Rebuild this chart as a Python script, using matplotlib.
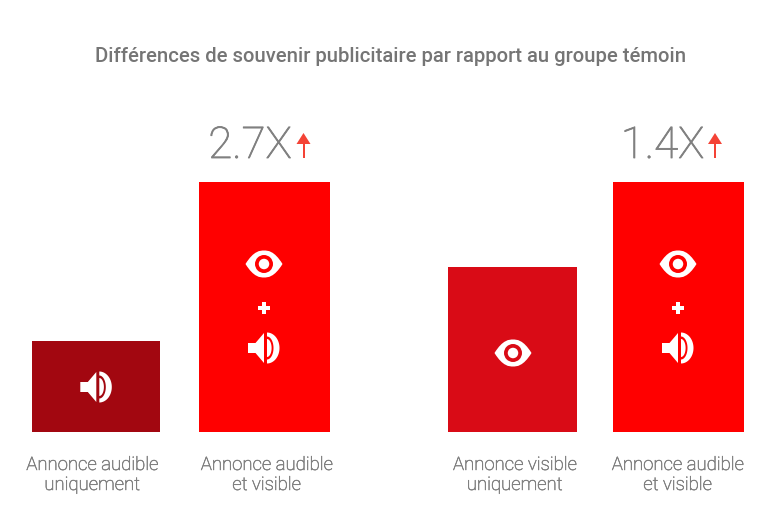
import matplotlib
matplotlib.use("Agg")
import numpy as np
import matplotlib.pyplot as plt
import matplotlib.patheffects as pe
from matplotlib.patches import Ellipse, Polygon, Rectangle, PathPatch
from matplotlib.path import Path
from matplotlib.transforms import Affine2D

title = "Différences de souvenir publicitaire par rapport au groupe témoin"
categories = ["Annonce audible\nuniquement", "Annonce audible\net visible",
              "Annonce visible\nuniquement", "Annonce audible\net visible"]
values = [91, 250, 165, 250]
multipliers = [None, "2.7X", None, "1.4X"]
icons = ["sound", "both", "eye", "both"]
bar_colors = ["#a20710", "#ff0000", "#d90b16", "#ff0000"]
centers = [95.8, 264.5, 512.5, 678.5]
widths = [128.5, 131, 128.5, 131]
label_centers = [92, 266.5, 514.5, 677.5]
mult_offsets = [0, -14.5, 0, -16]
arrow_offsets = [0, 39, 0, 36.5]

W, H = 780, 513
BASE = 432
fig = plt.figure(figsize=(7.8, 5.13), dpi=100)
ax = fig.add_axes([0, 0, 1, 1])
ax.set_xlim(0, W)
ax.set_ylim(BASE - H, BASE)
ax.axis("off")

GREY = "#757575"
LIGHT = "#808080"
ARROW = "#f44336"
FONT = "Roboto"
THICKEN = [pe.withStroke(linewidth=0.4, foreground=LIGHT)]
THICKEN_BIG = [pe.withStroke(linewidth=0.6, foreground=LIGHT)]


def place(cx, cy):
    return Affine2D().translate(cx, cy) + ax.transData


def eye(cx, cy, bg):
    t = place(cx, cy)
    w, h = 18.5, 13.5
    verts = [(-w, 0), (-w * .55, h), (-w * .2, h), (0, h), (w * .2, h), (w * .55, h), (w, 0),
             (w * .55, -h), (w * .2, -h), (0, -h), (-w * .2, -h), (-w * .55, -h), (-w, 0)]
    codes = [Path.MOVETO] + [Path.CURVE4] * 12
    ax.add_patch(PathPatch(Path(verts, codes), fc="white", ec="none", transform=t, zorder=3))
    ax.add_patch(Ellipse((0, 0), 18, 18, fc=bg, ec="none", transform=t, zorder=4))
    ax.add_patch(Ellipse((0, 0), 10.5, 10.5, fc="white", ec="none", transform=t, zorder=5))


def speaker(cx, cy):
    t = place(cx, cy)
    ax.add_patch(Polygon([(-16, -5), (-8.5, -5), (0, -15), (0, 15), (-8.5, 5), (-16, 5)],
                         fc="white", ec="none", transform=t, zorder=3))
    th = np.radians(np.arange(-90, 91, 5))
    d = np.column_stack([3 + 4.6 * np.cos(th), 9 * np.sin(th)])
    ax.add_patch(Polygon(d, fc="white", ec="none", transform=t, zorder=3))
    outer = np.column_stack([3 + 12.5 * np.cos(th), 15.5 * np.sin(th)])
    inner = np.column_stack([3 + 6.5 * np.cos(th[::-1]), 11.5 * np.sin(th[::-1])])
    ax.add_patch(Polygon(np.vstack([outer, inner]), fc="white", ec="none", transform=t, zorder=3))


def plus(cx, cy):
    t = place(cx, cy)
    ax.add_patch(Rectangle((-6, -1.7), 12, 3.4, fc="white", ec="none", transform=t, zorder=3))
    ax.add_patch(Rectangle((-1.7, -6), 3.4, 12, fc="white", ec="none", transform=t, zorder=3))


def up_arrow(cx, cy):
    t = place(cx, cy)
    ax.add_patch(Polygon([(-7, 0), (7, 0), (0, 11)], fc=ARROW, ec="none", transform=t, zorder=3))
    ax.add_patch(Rectangle((-1, -14), 2, 14.5, fc=ARROW, ec="none", transform=t, zorder=3))


ax.bar(centers, values, width=widths, color=bar_colors, linewidth=0, zorder=2)

for c, v, lab, lc, icon, col, mult, mo, ao in zip(centers, values, categories, label_centers, icons,
                                                  bar_colors, multipliers, mult_offsets, arrow_offsets):
    first, second = lab.split("\n")
    ax.text(lc, -38, first, ha="center", va="baseline", fontsize=13.35,
            family=FONT, weight="light", color=LIGHT, path_effects=THICKEN)
    ax.text(lc, -58, second, ha="center", va="baseline", fontsize=13.35,
            family=FONT, weight="light", color=LIGHT, path_effects=THICKEN)
    if icon == "sound":
        speaker(c + 0.5, v / 2 - 0.5)
    elif icon == "eye":
        eye(c + 0.5, v / 2 - 3.5, col)
    else:
        eye(c - 0.5, v - 82, col)
        plus(c - 0.5, v - 126)
        speaker(c - 0.5, v - 166)
    if mult:
        ax.text(c + mo, v + 24, mult, ha="center", va="baseline", fontsize=31.5,
                family=FONT, weight="light", color=LIGHT, path_effects=THICKEN_BIG)
        up_arrow(c + ao, v + 38)

ax.text(390.5, BASE - 62, title, ha="center", va="baseline", fontsize=14.58,
        family=FONT, weight="medium", color=GREY)

fig.savefig("out.png", dpi=100)
